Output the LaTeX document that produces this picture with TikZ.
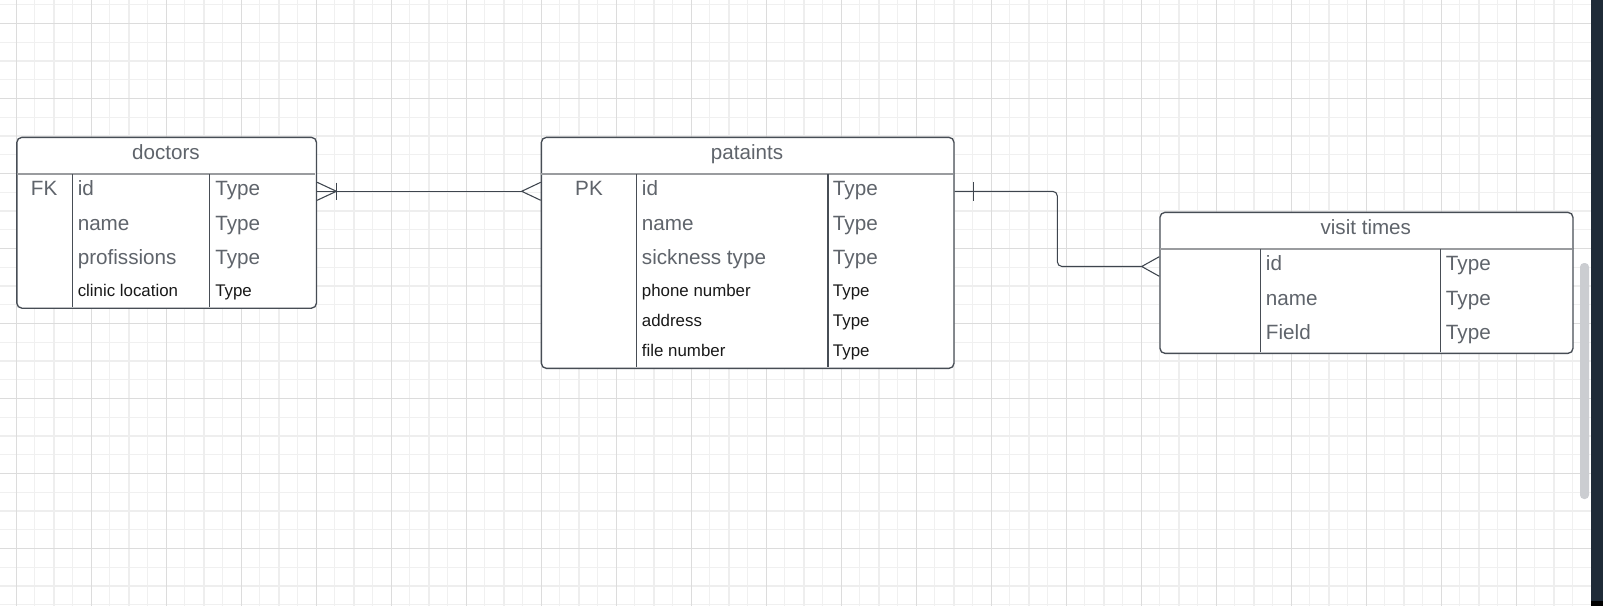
\documentclass[tikz,border=0pt]{standalone}
\usepackage{fontspec}
\setmainfont{Liberation Sans}
\usetikzlibrary{calc}
\definecolor{gridminor}{HTML}{F0F0F0}
\definecolor{gridmid}{HTML}{EEEEEE}
\definecolor{gridmajor}{HTML}{DCDCDC}
\definecolor{edgec}{HTML}{474D55}
\definecolor{sepc}{HTML}{9A9C9F}
\definecolor{txtgrey}{HTML}{5F646B}
\definecolor{linec}{HTML}{3E454E}
\definecolor{stripc}{HTML}{1F2B38}
\definecolor{scrollc}{HTML}{CBCDD1}
\begin{document}
\begin{tikzpicture}[x=0.75pt,y=-0.75pt,
  tbox/.style={draw=edgec, line width=1pt, rounded corners=3.75pt, fill=white, inner sep=0pt, anchor=north west},
  hdr/.style={font=\fontsize{15.45}{18}\selectfont, text=txtgrey, anchor=base, inner sep=0pt},
  big/.style={font=\fontsize{15.5}{18}\selectfont, text=txtgrey, anchor=base west, inner sep=0pt},
  small/.style={font=\fontsize{12.65}{15}\selectfont, text=black!90, anchor=base west, inner sep=0pt},
  keyc/.style={font=\fontsize{15.5}{18}\selectfont, text=txtgrey, anchor=base, inner sep=0pt},
  hsep/.style={draw=sepc, line width=1.5pt},
  csep/.style={draw=edgec, line width=0.9pt},
  conn/.style={draw=linec, line width=0.8pt},
]
\useasboundingbox (0,0) rectangle (1603,606);
\fill[white] (0,0) rectangle (1603,606);
% grid
\begin{scope}
\clip (0,0) rectangle (1591,606);
\foreach \j in {0,...,41} \draw[gridminor, line width=0.75pt] (34.75+37.5*\j,0) -- (34.75+37.5*\j,606);
\foreach \j in {0,...,16} \draw[gridminor, line width=0.75pt] (0,4.55+37.5*\j) -- (1591,4.55+37.5*\j);
\foreach \j in {0,...,20} \draw[gridmid, line width=1.5pt] (53.5+75*\j,0) -- (53.5+75*\j,606);
\foreach \j in {0,...,7} \draw[gridmid, line width=1.5pt] (0,60.8+75*\j) -- (1591,60.8+75*\j);
\foreach \j in {0,...,21} \draw[gridmajor, line width=0.75pt] (16+75*\j,0) -- (16+75*\j,606);
\foreach \j in {0,...,7} \draw[gridmajor, line width=0.75pt] (0,23.3+75*\j) -- (1591,23.3+75*\j);
\end{scope}
% scrollbar and window strip
\fill[scrollc, rounded corners=3pt] (1580,263) rectangle (1589,499);
\fill[stripc] (1591,0) rectangle (1603,601);
\fill[black] (1591,601) rectangle (1603,606);

% ---------- doctors ----------
\node[tbox, minimum width=224.7pt, minimum height=128.1pt] (doc) at (16.2,136.7) {};
\draw[hsep] (16.7,174.3) -- (315.3,174.3);
\draw[csep] (72.3,174.3) -- (72.3,307.2);
\draw[csep] (209.4,174.3) -- (209.4,307.2);
\node[hdr] (docH) at (166,160) {doctors};
\node[keyc] (docK) at (44.2,196) {FK};
\node[big] (docA) at (77.5,196) {id};
\node[big] (docB) at (77.5,230.4) {name};
\node[big] (docC) at (77.5,264.8) {profissions};
\node[small] (docD) at (77.5,296.7) {clinic location};
\node[big] (docAt) at (215,196) {Type};
\node[big] (docBt) at (215,230.4) {Type};
\node[big] (docCt) at (215,264.8) {Type};
\node[small] (docDt) at (215,296.7) {Type};

% ---------- pataints ----------
\node[tbox, minimum width=309.45pt, minimum height=173.25pt] (pat) at (540.7,136.7) {};
\draw[hsep] (541.2,174.3) -- (952.8,174.3);
\draw[csep] (636.7,174.3) -- (636.7,367.2);
\draw[csep] (828,174.3) -- (828,367.2);
\node[hdr] (patH) at (747,159.7) {pataints};
\node[keyc] (patK) at (589,196) {PK};
\node[big] (patA) at (641.7,196) {id};
\node[big] (patB) at (641.7,230.4) {name};
\node[big] (patC) at (641.7,264.8) {sickness type};
\node[small] (patD) at (641.7,296.7) {phone number};
\node[small] (patE) at (641.7,326.7) {address};
\node[small] (patF) at (641.7,356.7) {file number};
\node[big] (patAt) at (832.7,196) {Type};
\node[big] (patBt) at (832.7,230.4) {Type};
\node[big] (patCt) at (832.7,264.8) {Type};
\node[small] (patDt) at (832.7,296.7) {Type};
\node[small] (patEt) at (832.7,326.7) {Type};
\node[small] (patFt) at (832.7,356.7) {Type};

% ---------- visit times ----------
\node[tbox, minimum width=309.75pt, minimum height=105.75pt] (vis) at (1159.3,211.7) {};
\draw[hsep] (1159.8,249) -- (1571.8,249);
\draw[csep] (1260.3,249) -- (1260.3,352.2);
\draw[csep] (1440.3,249) -- (1440.3,352.2);
\node[hdr] (visH) at (1365.8,234.7) {visit times};
\node[big] (visA) at (1265.7,270.7) {id};
\node[big] (visB) at (1265.7,305.1) {name};
\node[big] (visC) at (1265.7,339.5) {Field};
\node[big] (visAt) at (1445.7,270.7) {Type};
\node[big] (visBt) at (1445.7,305.1) {Type};
\node[big] (visCt) at (1445.7,339.5) {Type};

% ---------- connectors ----------
% doctors -- pataints
\draw[conn] ($(doc.north east)+(0,54.6)$) -- ($(pat.north west)+(-19,54.6)$);
% doctors end: one-and-many (bar + crow's foot)
\draw[conn] ($(doc.north east)+(0,45.6)$) -- ($(doc.north east)+(19.3,54.6)$) -- ($(doc.north east)+(0,63.6)$);
\draw[conn] ($(doc.north east)+(19.3,46)$) -- ($(doc.north east)+(19.3,63.2)$);
% pataints end: crow's foot
\draw[conn] ($(pat.north west)+(0,45.6)$) -- ($(pat.north west)+(-19,54.6)$) -- ($(pat.north west)+(0,63.6)$);

% pataints -- visit times
\draw[conn, rounded corners=3.5pt] ($(pat.north east)+(0,54.6)$) -- ++(102.7,0) |- ($(vis.north west)+(-17.6,54.8)$);
\draw[conn] ($(pat.north east)+(19,45.3)$) -- ($(pat.north east)+(19,64)$);
\draw[conn] ($(vis.north west)+(0,45)$) -- ($(vis.north west)+(-17.6,54.8)$) -- ($(vis.north west)+(0,64.6)$);
\end{tikzpicture}
\end{document}
